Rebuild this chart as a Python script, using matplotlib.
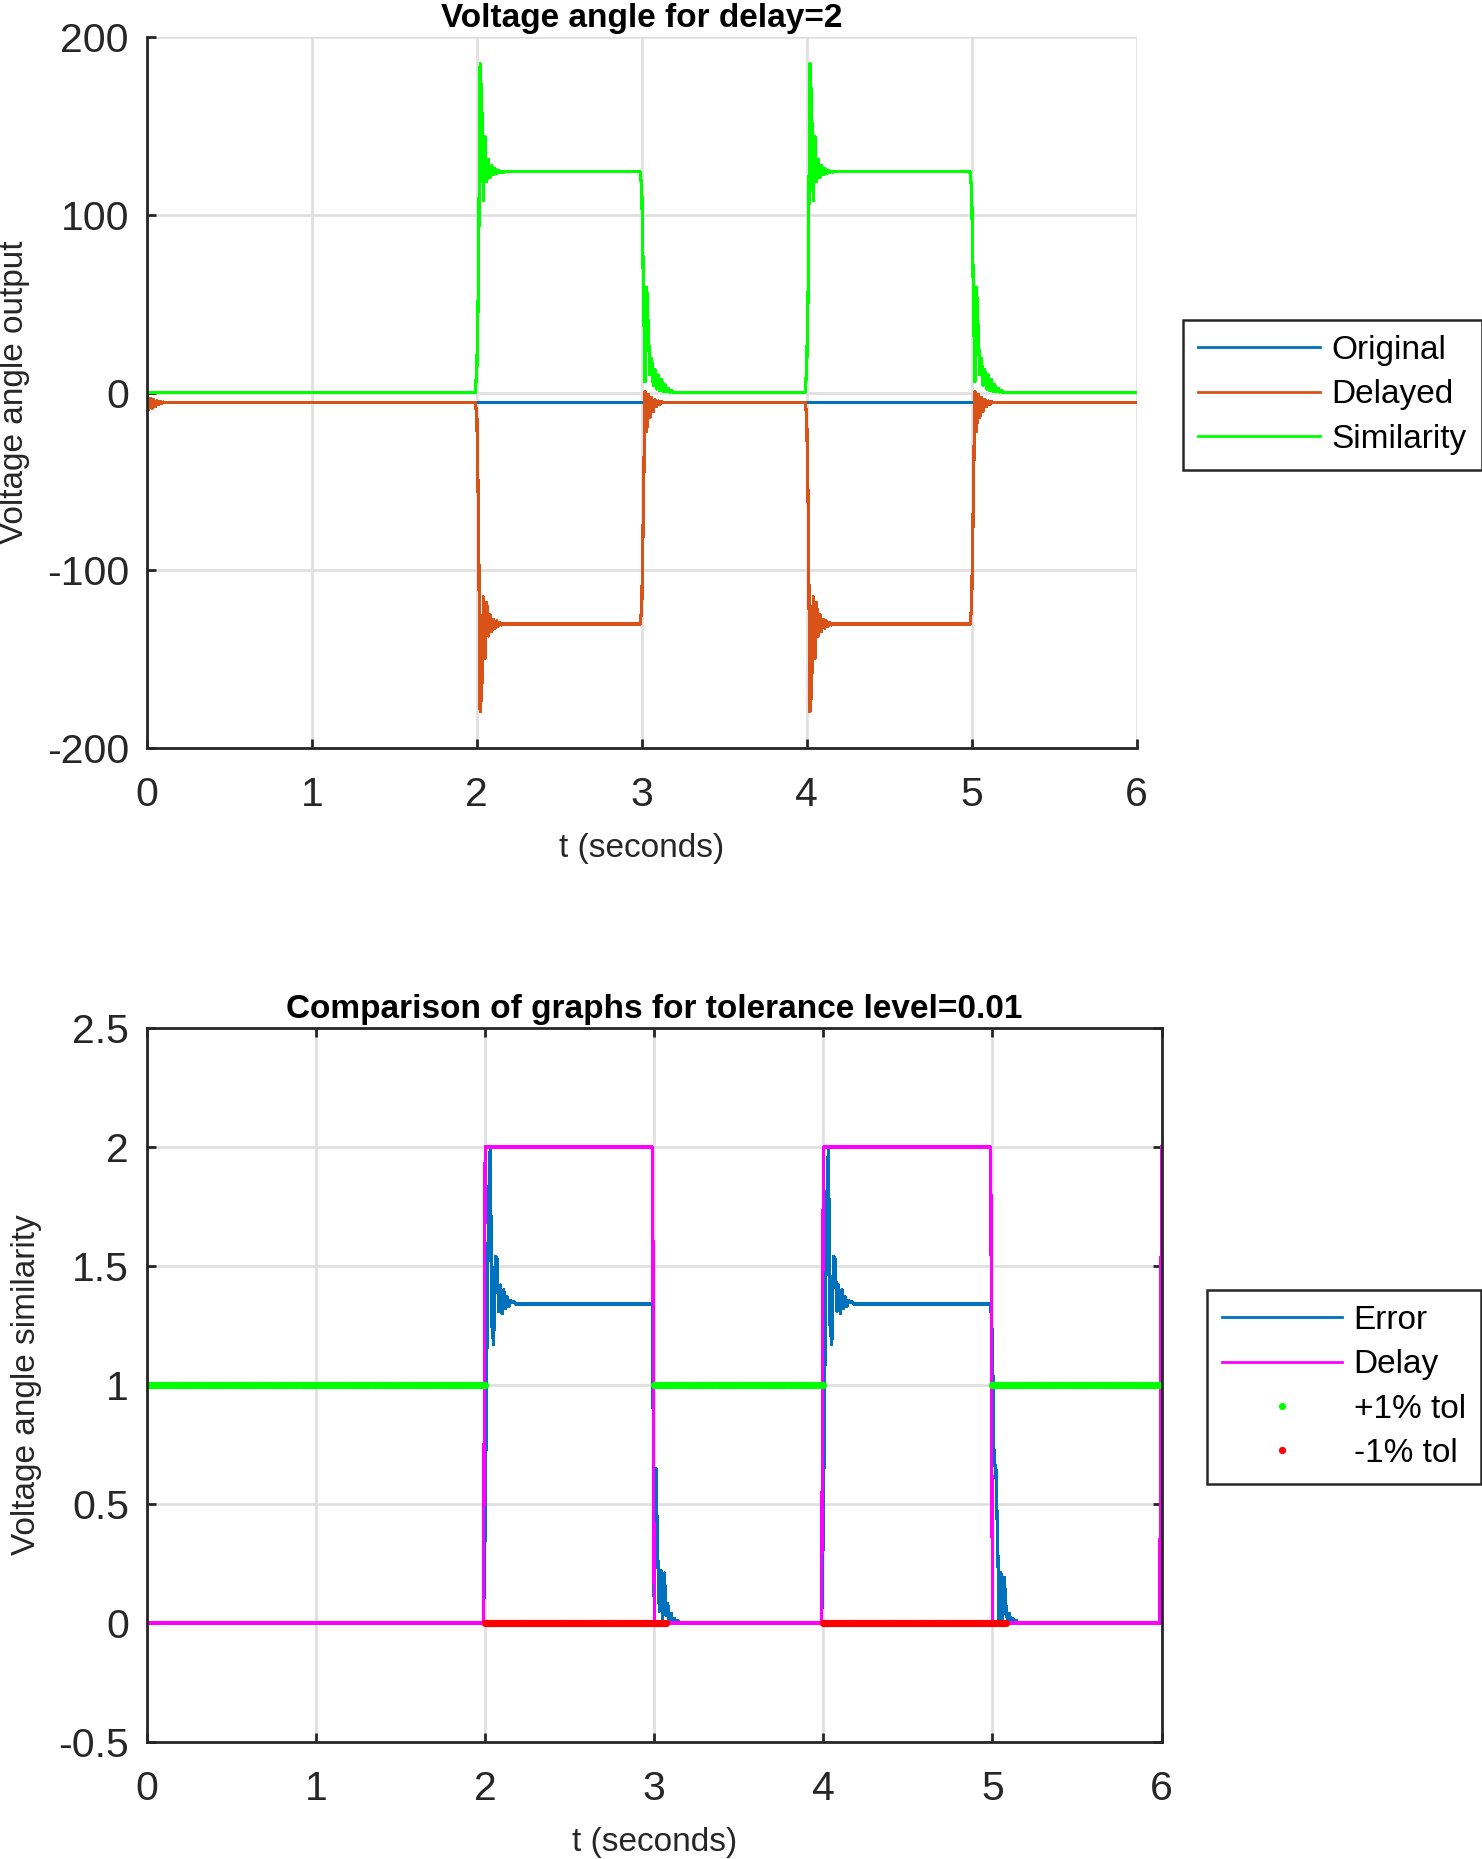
import numpy as np
import matplotlib
matplotlib.use("Agg")
import matplotlib.pyplot as plt
from matplotlib.ticker import FuncFormatter

plt.rcParams['font.family'] = ['Liberation Sans', 'DejaVu Sans']
plt.rcParams['axes.unicode_minus'] = False

# sampling of the simulation (s)
dt = 0.01
t_end = 6.0

# step times of the delayed signal
pulse_on = [2.0, 4.0]
pulse_off = [3.0, 5.0]

# steady levels
orig_level = -5.5
delayed_high = -130.2
sim_high = 124.2
err_high = 1.34

# samples (every dt) right after t = 0, both angle traces
start_wiggle = [-0.8, -9.8, -3.3, -9.0, -4.0, -8.0, -4.6, -7.0, -5.0, -6.0, -5.4]

# samples (every dt) starting at each rising step t = 2, 4
delayed_rise = [-12.7, -69.0, -179.6, -167.0, -115.0, -149.5, -118.0, -137.0, -125.0,
                -134.5, -127.5, -132.5, -128.5, -131.5, -129.5, -130.8, -129.9, -130.4,
                -130.1, -130.2]
sim_rise = [12.6, 63.0, 185.0, 161.0, 108.0, 144.0, 118.6, 131.0, 121.0, 127.5, 122.5,
            126.0, 123.4, 125.0, 123.8, 124.5, 124.0, 124.3, 124.2]
err_rise = [0.41, 1.14, 1.76, 2.0, 1.25, 1.17, 1.54, 1.53, 1.31, 1.42, 1.30, 1.40, 1.32,
            1.37, 1.33, 1.355, 1.345, 1.35, 1.34]

# samples (every dt) starting at each falling step t = 3, 5
delayed_fall = [-121.4, -64.0, 0.5, -22.0, -1.0, -14.0, -3.0, -10.5, -4.0, -8.0, -4.8,
                -6.6, -5.2, -5.8, -5.4, -5.6, -5.5]
sim_fall = [115.0, 60.0, 6.0, 59.0, 35.0, 10.0, 19.0, 4.0, 12.7, 2.0, 9.8, 1.0, 7.5, 0.5,
            4.5, 0.5, 2.5, 0.3, 1.0, 0.0]
err_fall = {3.0: [0.0, 0.65, 0.30, 0.05, 0.22, 0.01, 0.21, 0.03, 0.08, 0.0, 0.04, 0.0,
                  0.02, 0.0, 0.01, 0.0],
            5.0: [1.19, 0.66, 0.66, 0.37, 0.0, 0.21, 0.0, 0.19, 0.07, 0.0, 0.04, 0.0,
                  0.02, 0.0, 0.01, 0.0]}

# delay indicator pulses (value 2)
delay_on = [2.0, 4.0, 6.0]
delay_off = [3.0, 5.0, 7.0]
delay_level = 2.0

# tolerance check: inside (+1%) at 1, outside (-1%) at 0
tol_in = [(0.0, 2.0), (3.0, 4.0), (5.0, 6.0)]
tol_out = [(2.0, 3.07), (4.0, 5.08)]

t = np.round(np.arange(0, t_end + dt / 2, dt), 2)
n = len(t)


def idx(v):
    return int(round(v / dt))


original = np.full(n, orig_level)
original[:len(start_wiggle)] = start_wiggle
delayed = original.copy()
similarity = np.zeros(n)
error = np.zeros(n)
for on, off in zip(pulse_on, pulse_off):
    i0, i1 = idx(on), idx(off)
    delayed[i0:i1] = delayed_high
    delayed[i0:i0 + len(delayed_rise)] = delayed_rise
    delayed[i1:i1 + len(delayed_fall)] = delayed_fall
    similarity[i0:i1] = sim_high
    similarity[i0:i0 + len(sim_rise)] = sim_rise
    similarity[i1:i1 + len(sim_fall)] = sim_fall
    error[i0:i1] = err_high
    error[i0:i0 + len(err_rise)] = err_rise
    error[i1:i1 + len(err_fall[off])] = err_fall[off]

delay = np.zeros(n)
for on, off in zip(delay_on, delay_off):
    delay[idx(on):idx(off)] = delay_level

t_plus = np.concatenate([t[idx(a):idx(b) + 1] for a, b in tol_in])
t_minus = np.concatenate([t[idx(a):idx(b) + 1] for a, b in tol_out])

W, H = 1482, 1859
fig = plt.figure(figsize=(W / 100, H / 100), dpi=100)
ax1 = fig.add_axes([147 / W, 1 - 748 / H, (1136.5 - 147) / W, (748 - 37) / H])
ax2 = fig.add_axes([147 / W, 1 - 1742 / H, (1161.5 - 147) / W, (1742 - 1028) / H])

blue = '#0072BD'
orange = '#D95319'
dark = '#262626'
lw = 1.6
fmt = FuncFormatter(lambda v, p: '%g' % v)


def style(ax, box):
    ax.grid(True, color='#dfdfdf', linewidth=1.9)
    ax.set_axisbelow(True)
    for s in ax.spines.values():
        s.set_linewidth(2.0)
        s.set_color(dark)
    if not box:
        ax.spines['top'].set_visible(False)
        ax.spines['right'].set_visible(False)
    ax.tick_params(direction='in', length=6.5, width=2.0, color=dark,
                   labelcolor=dark, labelsize=29.5, top=box, right=box)
    ax.tick_params(axis='x', pad=20)
    ax.tick_params(axis='y', pad=13)
    ax.xaxis.set_major_formatter(fmt)
    ax.yaxis.set_major_formatter(fmt)


def frame(leg):
    leg.get_frame().set_edgecolor(dark)
    leg.get_frame().set_linewidth(1.8)
    for h in leg.get_lines():
        h.set_linewidth(2.0)


# top: voltage angle traces
ax1.plot(t, original, color=blue, lw=lw, antialiased=False, label='Original')
ax1.plot(t, delayed, color=orange, lw=lw, antialiased=False, label='Delayed')
ax1.plot(t, similarity, color='#00FF00', lw=lw, antialiased=False, label='Similarity')
ax1.set_xlim(0, 6)
ax1.set_ylim(-200, 200)
ax1.set_xticks(range(0, 7))
ax1.set_yticks([-200, -100, 0, 100, 200])
style(ax1, box=False)
ax1.set_title('Voltage angle for delay=2', fontsize=24, fontweight='bold', pad=7)
ax1.set_xlabel('t (seconds)', fontsize=24, color=dark, va='center')
ax1.set_ylabel('Voltage angle output', fontsize=24, color=dark, va='center')
ax1.xaxis.set_label_coords(0.5, (748 - 849) / 711)
ax1.yaxis.set_label_coords((15 - 147) / 989.5, 0.5)

leg1 = ax1.legend(loc='upper left', bbox_to_anchor=(1183 / W, 1 - 320 / H),
                  bbox_transform=fig.transFigure, borderaxespad=0, fontsize=24,
                  handlelength=3.65, handletextpad=0.35, labelspacing=0.4,
                  borderpad=0.45, fancybox=False, framealpha=1)
frame(leg1)

# bottom: error, delay flag and tolerance check
ax2.plot(t, error, color=blue, lw=lw, antialiased=False, label='Error')
ax2.plot(t, delay, color='#FF00FF', lw=lw, antialiased=False, label='Delay')
ax2.plot(t_plus, np.ones(len(t_plus)), 'o', color='#00FF00', ms=5.2, mec='none',
         label='+1% tol')
ax2.plot(t_minus, np.zeros(len(t_minus)), 'o', color='#FF0000', ms=5.2, mec='none',
         label='-1% tol')
ax2.set_xlim(0, 6)
ax2.set_ylim(-0.5, 2.5)
ax2.set_xticks(range(0, 7))
ax2.set_yticks(np.arange(-0.5, 2.51, 0.5))
style(ax2, box=True)
ax2.set_title('Comparison of graphs for tolerance level=0.01', fontsize=24,
              fontweight='bold', pad=7)
ax2.set_xlabel('t (seconds)', fontsize=24, color=dark, va='center')
ax2.set_ylabel('Voltage angle similarity', fontsize=24, color=dark, va='center')
ax2.xaxis.set_label_coords(0.5, (1742 - 1842) / 714)
ax2.yaxis.set_label_coords((27 - 147) / 1014.5, 0.5)

leg2 = ax2.legend(loc='upper left', bbox_to_anchor=(1207 / W, 1 - 1290 / H),
                  bbox_transform=fig.transFigure, borderaxespad=0, fontsize=24,
                  handlelength=3.6, handletextpad=0.35, labelspacing=0.4,
                  borderpad=0.45, fancybox=False, framealpha=1, numpoints=1)
frame(leg2)

fig.savefig('out.png', dpi=100, facecolor='white')
